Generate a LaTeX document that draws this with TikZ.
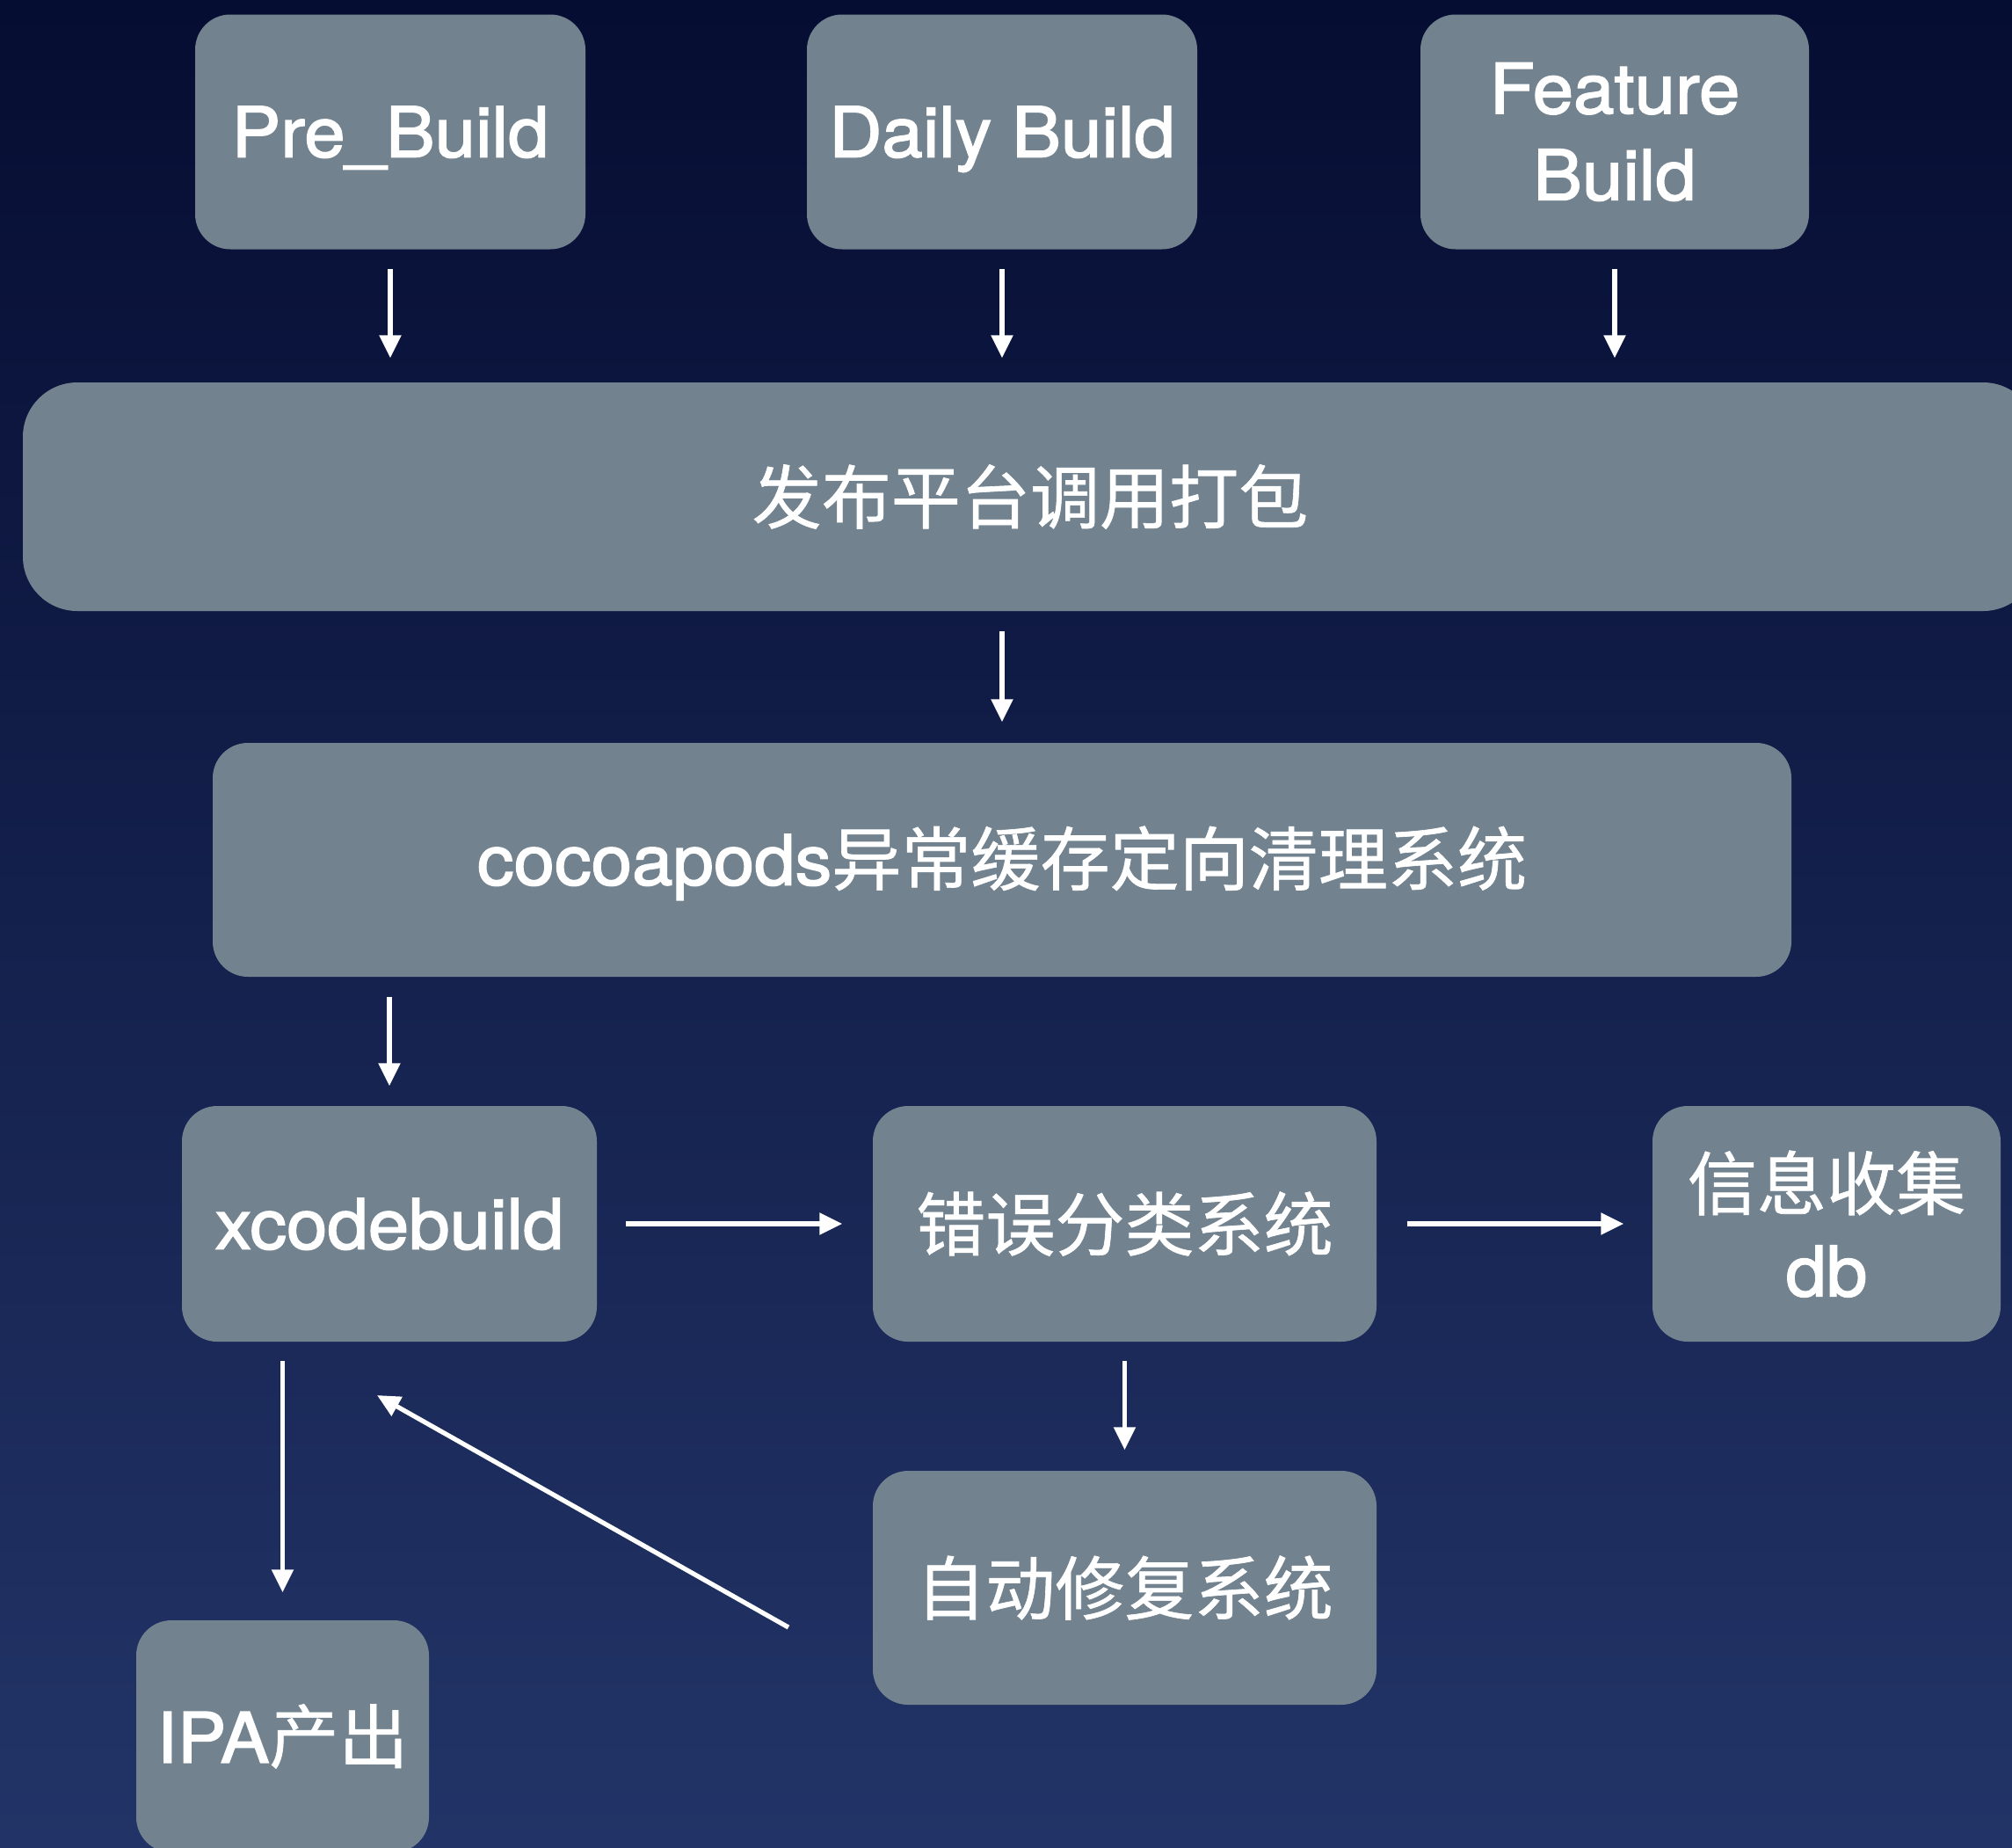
\documentclass[tikz,border=0pt]{standalone}
\usepackage{fontspec}
\setmainfont{TeX Gyre Heros}[FakeBold=2, FakeStretch=1.055]
\newfontfamily\cjk{Noto Sans CJK SC}[FakeBold=0.8]
\usetikzlibrary{arrows.meta}
\definecolor{boxgray}{RGB}{114,131,143}
\definecolor{bgtop}{RGB}{6,13,50}
\definecolor{bgbottom}{RGB}{34,52,103}
\tikzset{
  box/.style={fill=boxgray, rounded corners=0.4cm, text=white, inner sep=0pt,
    align=center, font=\fontsize{22.5}{28}\selectfont},
  oneline/.style={text height=0.57cm, text depth=0cm},
  flow/.style={draw=white, line width=1.5pt, -{Triangle[length=0.26cm,width=0.24cm]}},
}

\begin{document}
\begin{tikzpicture}
  \fill [top color=bgtop, bottom color=bgbottom] (0,0) rectangle (22.89,-21.01);
  \useasboundingbox (0,0) rectangle (22.89,-21.01);
  \clip (0,0) rectangle (22.89,-21.01);

  % build triggers
  \node [box, oneline, minimum width=4.44cm, minimum height=2.67cm] (prebuild) at (4.44,-1.50) {Pre\_Build};
  \node [box, oneline, minimum width=4.44cm, minimum height=2.67cm] (daily) at (11.40,-1.50) {Daily Build};
  \node [box, minimum width=4.42cm, minimum height=2.67cm] (feature) at (18.37,-1.50) {Feature\\Build};

  \node [box, rounded corners=0.62cm, minimum width=22.92cm, minimum height=2.60cm] (publish) at (11.72,-5.65) {{\cjk 发布平台调用打包}};
  \node [box, text depth=0.1cm, minimum width=17.96cm, minimum height=2.66cm] (cocoa) at (11.40,-9.78) {cocoapods{\cjk 异常缓存定向清理系统}};

  \node [box, oneline, minimum width=4.72cm, minimum height=2.68cm] (xcode) at (4.43,-13.92) {xcodebuild};
  \node [box, minimum width=5.73cm, minimum height=2.68cm] (sort) at (12.795,-13.92) {{\cjk 错误分类系统}};
  \node [box, minimum width=3.96cm, minimum height=2.68cm] (info) at (20.78,-13.92) {{\cjk 信息收集}\\db};
  \node [box, minimum width=5.73cm, minimum height=2.66cm] (fix) at (12.795,-18.06) {{\cjk 自动修复系统}};
  \node [box, minimum width=3.33cm, minimum height=2.64cm] (ipa) at (3.215,-19.75) {IPA{\cjk 产出}};

  \coordinate (fixtail) at (8.97,-18.51);
  \coordinate (xcodeback) at (4.29,-15.87);

  \draw [flow, shorten <=0.22cm, shorten >=0.27cm] (prebuild.south) -- (prebuild.south |- publish.north);
  \draw [flow, shorten <=0.22cm, shorten >=0.27cm] (daily.south) -- (daily.south |- publish.north);
  \draw [flow, shorten <=0.22cm, shorten >=0.27cm] (feature.south) -- (feature.south |- publish.north);
  \draw [flow, shorten <=0.22cm, shorten >=0.23cm] (cocoa.north |- publish.south) -- (cocoa.north);
  \draw [flow, shorten <=0.22cm, shorten >=0.22cm] (xcode.north |- cocoa.south) -- (xcode.north);
  \draw [flow, shorten <=0.32cm, shorten >=0.34cm] (xcode.east) -- (sort.west);
  \draw [flow, shorten <=0.34cm, shorten >=0.32cm] (sort.east) -- (info.west);
  \draw [flow, shorten <=0.21cm, shorten >=0.23cm] (sort.south) -- (fix.north);
  \draw [flow, shorten <=0.21cm, shorten >=0.31cm] (ipa.north |- xcode.south) -- (ipa.north);
  \draw [flow] (fixtail) -- (xcodeback);
\end{tikzpicture}
\end{document}
